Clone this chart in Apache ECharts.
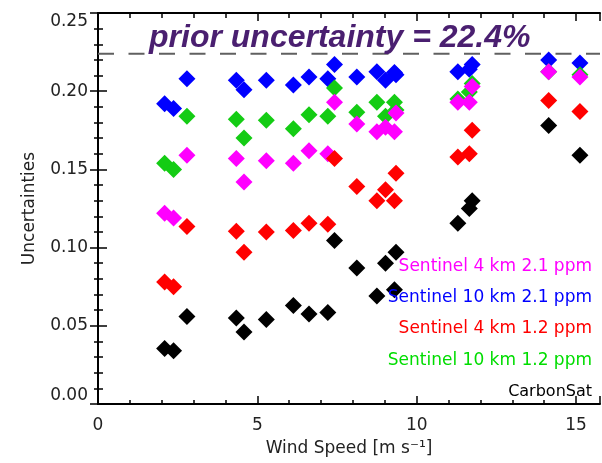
<!DOCTYPE html>
<html>
<head>
<meta charset="utf-8">
<script src="https://cdn.jsdelivr.net/npm/echarts@6/dist/echarts.min.js"></script>
<style>
html, body { margin: 0; padding: 0; background: #fff; }
#chart { width: 602px; height: 463px; }
</style>
</head>
<body>
<div id="chart"></div>
<script>
// wind speed of each case [m s-1]
const windSpeed = [2.09, 2.37, 2.79, 4.34, 4.58, 5.28, 6.13, 6.62, 7.21, 7.42,
  8.12, 8.75, 9.02, 9.30, 9.35, 11.29, 11.65, 11.74, 14.14, 15.12];

const sentinel10km21 = [0.192, 0.189, 0.208, 0.207, 0.201, 0.207, 0.204, 0.209, 0.208, 0.217,
  0.209, 0.2125, 0.207, 0.212, 0.2105, 0.2125, 0.214, 0.217, 0.220, 0.218];
const sentinel10km12 = [0.154, 0.150, 0.184, 0.182, 0.170, 0.1815, 0.176, 0.185, 0.184, 0.202,
  0.1865, 0.193, 0.184, 0.193, 0.188, 0.195, 0.1995, 0.205, 0.2125, 0.2105];
const sentinel4km21 = [0.122, 0.119, 0.159, 0.157, 0.142, 0.1555, 0.154, 0.162, 0.160, 0.193,
  0.179, 0.174, 0.177, 0.174, 0.186, 0.193, 0.193, 0.203, 0.2125, 0.209];
const sentinel4km12 = [0.078, 0.075, 0.1135, 0.1105, 0.097, 0.110, 0.111, 0.1155, 0.115, 0.157,
  0.139, 0.130, 0.137, 0.130, 0.1475, 0.158, 0.160, 0.175, 0.194, 0.187];
const carbonSat = [0.0355, 0.034, 0.056, 0.055, 0.046, 0.054, 0.063, 0.0575, 0.0585, 0.1045,
  0.087, 0.069, 0.090, 0.073, 0.097, 0.1155, 0.125, 0.130, 0.178, 0.159];

const priorUncertainty = 0.224;
const xMax = 15.75;

const fontFamily = "'DejaVu Sans', sans-serif";

function pairs (ys) {
  return windSpeed.map((x, i) => [x, ys[i]]);
}

function diamonds (name, ys, color) {
  return {
    name: name,
    type: "scatter",
    symbol: "diamond",
    symbolSize: 17,
    data: pairs(ys),
    itemStyle: { color: color, opacity: 1 },
    emphasis: { disabled: true },
    silent: true
  };
}

let chart = echarts.init(document.getElementById("chart"), null, { renderer: "canvas" });

let xTick = (len, pos, interval, line) => ({
  type: "value",
  position: pos,
  min: 0,
  max: xMax,
  interval: interval,
  axisLine: { show: line, onZero: false, lineStyle: { color: "#000", width: 2 } },
  axisTick: { show: true, inside: true, length: len, lineStyle: { color: "#000", width: 1.5 } },
  axisLabel: { show: false },
  splitLine: { show: false }
});

let bottomAxis = xTick(4, "bottom", 1, true);
bottomAxis.axisLabel = {
  show: true,
  margin: 13,
  color: "#222",
  fontSize: 17,
  fontFamily: fontFamily,
  showMaxLabel: false,
  formatter: v => (Math.abs(v % 5) < 1e-9 ? String(v) : "")
};
bottomAxis.name = "Wind Speed [m s\u207B\u00B9]";
bottomAxis.nameLocation = "middle";
bottomAxis.nameGap = 36;
bottomAxis.nameTextStyle = { color: "#222", fontSize: 17, fontFamily: fontFamily };

chart.setOption({
  animation: false,
  backgroundColor: "#fff",
  grid: { left: 98, right: 2, top: 13, bottom: 59, outerBoundsMode: "none" },
  title: {
    text: "prior uncertainty = 22.4%",
    left: 144,
    top: 17,
    textStyle: {
      color: "#4a1f70",
      fontSize: 32,
      fontStyle: "italic",
      fontWeight: "bold",
      fontFamily: "'Liberation Sans', Arial, sans-serif"
    }
  },
  xAxis: [
    bottomAxis,
    xTick(8, "bottom", 5, false),
    xTick(5, "top", 1, true),
    xTick(8, "top", 5, false)
  ],
  yAxis: [
    {
      type: "value",
      position: "left",
      min: 0,
      max: 0.25,
      interval: 0.05,
      name: "Uncertainties",
      nameLocation: "middle",
      nameGap: 60,
      nameTextStyle: { color: "#222", fontSize: 17, fontFamily: fontFamily },
      axisLine: { show: true, lineStyle: { color: "#000", width: 2 } },
      axisTick: { show: true, inside: true, length: 9, lineStyle: { color: "#000", width: 1.5 } },
      minorTick: { show: true, splitNumber: 5, length: 5, lineStyle: { color: "#000", width: 1.5 } },
      axisLabel: {
        color: "#222",
        fontSize: 17,
        margin: 10,
        fontFamily: fontFamily,
        verticalAlignMaxLabel: "top",
        verticalAlignMinLabel: "bottom",
        formatter: v => v.toFixed(2)
      },
      splitLine: { show: false },
      minorSplitLine: { show: false }
    },
    {
      type: "value",
      position: "right",
      min: 0,
      max: 0.25,
      interval: 0.05,
      axisLine: { show: true, lineStyle: { color: "#000", width: 2 } },
      axisTick: { show: true, inside: true, length: 8, lineStyle: { color: "#000", width: 1.5 } },
      minorTick: { show: true, splitNumber: 5, length: 4, lineStyle: { color: "#000", width: 1.5 } },
      axisLabel: { show: false },
      splitLine: { show: false }
    }
  ],
  series: [
    {
      name: "prior",
      type: "line",
      data: [[0, priorUncertainty], [xMax, priorUncertainty]],
      showSymbol: false,
      silent: true,
      lineStyle: { color: "#606060", width: 2, type: [16, 14.5] },
      z: 1
    },
    diamonds("Sentinel 10 km 2.1 ppm", sentinel10km21, "#0000ff"),
    diamonds("Sentinel 10 km 1.2 ppm", sentinel10km12, "#14cc14"),
    diamonds("Sentinel 4 km 2.1 ppm", sentinel4km21, "#ff00ff"),
    diamonds("Sentinel 4 km 1.2 ppm", sentinel4km12, "#ff0000"),
    diamonds("CarbonSat", carbonSat, "#000000")
  ],
  graphic: [
    { type: "text", right: 10, top: 258, z: 10, style: { text: "Sentinel 4 km 2.1 ppm", fill: "#ff00ff", font: "17px " + fontFamily } },
    { type: "text", right: 10, top: 289, z: 10, style: { text: "Sentinel 10 km 2.1 ppm", fill: "#0000ff", font: "17px " + fontFamily } },
    { type: "text", right: 10, top: 320, z: 10, style: { text: "Sentinel 4 km 1.2 ppm", fill: "#ff0000", font: "17px " + fontFamily } },
    { type: "text", right: 10, top: 352, z: 10, style: { text: "Sentinel 10 km 1.2 ppm", fill: "#00dd00", font: "17px " + fontFamily } },
    { type: "text", right: 10, top: 384, z: 10, style: { text: "CarbonSat", fill: "#000", font: "16px " + fontFamily } }
  ]
});
</script>
</body>
</html>
